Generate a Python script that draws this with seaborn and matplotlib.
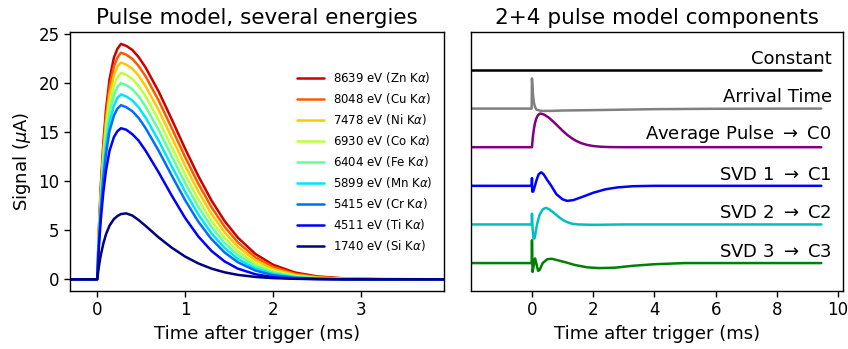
import numpy as np
import pandas as pd
import matplotlib
matplotlib.use("Agg")
import matplotlib.pyplot as plt
import seaborn as sns

# ---- left panel: pulses for several line energies ----
t_pulse = [-0.31, 0, 0.02, 0.04, 0.07, 0.10, 0.14, 0.19, 0.23, 0.27, 0.33, 0.40, 0.47,
           0.55, 0.70, 0.85, 1.00, 1.15, 1.30, 1.45, 1.60, 1.80, 2.00, 2.25,
           2.50, 2.80, 3.20, 3.94]

labels = ["8639 eV (Zn K$\\alpha$)", "8048 eV (Cu K$\\alpha$)", "7478 eV (Ni K$\\alpha$)",
          "6930 eV (Co K$\\alpha$)", "6404 eV (Fe K$\\alpha$)", "5899 eV (Mn K$\\alpha$)",
          "5415 eV (Cr K$\\alpha$)", "4511 eV (Ti K$\\alpha$)", "1740 eV (Si K$\\alpha$)"]

zn = [0, 0, 5.3, 9.4, 13.9, 17.3, 20.4, 22.6, 23.5, 24.0, 23.8, 23.38, 22.67, 21.60, 19.13,
      16.27, 13.32, 10.54, 8.04, 5.93, 4.25, 2.58, 1.49, 0.69, 0.30, 0.10, 0.02, 0]
cu = [0, 0, 5.1, 9.0, 13.4, 16.6, 19.6, 21.7, 22.6, 23.1, 22.9, 22.47, 21.76, 20.70, 18.21,
      15.37, 12.47, 9.75, 7.35, 5.35, 3.77, 2.24, 1.26, 0.56, 0.23, 0.07, 0.01, 0]
ni = [0, 0, 4.9, 8.6, 12.8, 15.9, 18.8, 20.8, 21.7, 22.1, 21.9, 21.47, 20.78, 19.70, 17.23,
      14.42, 11.59, 8.95, 6.66, 4.78, 3.30, 1.92, 1.05, 0.45, 0.18, 0.05, 0.01, 0]
co = [0, 0, 4.6, 8.2, 12.2, 15.2, 17.9, 19.8, 20.6, 21.05, 20.85, 20.42, 19.72, 18.66, 16.21,
      13.45, 10.69, 8.15, 5.98, 4.22, 2.86, 1.62, 0.86, 0.35, 0.13, 0.04, 0.01, 0]
fe = [0, 0, 4.4, 7.8, 11.6, 14.4, 17.0, 18.8, 19.6, 20.0, 19.8, 19.37, 18.68, 17.62, 15.20,
      12.50, 9.82, 7.39, 5.33, 3.69, 2.46, 1.35, 0.69, 0.27, 0.10, 0.03, 0, 0]
mn = [0, 0, 4.1, 7.4, 10.9, 13.6, 16.0, 17.7, 18.5, 18.85, 18.65, 18.23, 17.55, 16.50, 14.12,
      11.49, 8.92, 6.61, 4.69, 3.19, 2.08, 1.10, 0.55, 0.21, 0.07, 0.02, 0, 0]
cr = [0, 0, 3.9, 6.9, 10.3, 12.8, 15.1, 16.7, 17.4, 17.75, 17.55, 17.13, 16.47, 15.42, 13.09,
      10.54, 8.07, 5.88, 4.10, 2.73, 1.74, 0.89, 0.43, 0.15, 0.05, 0.01, 0, 0]
ti = [0, 0, 3.4, 6.0, 8.9, 11.1, 13.1, 14.5, 15.1, 15.4, 15.25, 14.79, 14.15, 13.12, 10.89,
      8.50, 6.26, 4.37, 2.89, 1.82, 1.09, 0.51, 0.22, 0.07, 0.02, 0, 0, 0]
si = [0, 0, 1.35, 2.43, 3.65, 4.59, 5.47, 6.14, 6.45, 6.65, 6.72, 6.50, 6.05, 5.45, 4.26,
      3.21, 2.32, 1.62, 1.09, 0.71, 0.45, 0.24, 0.12, 0.05, 0.02, 0, 0, 0]
pulses = [zn, cu, ni, co, fe, mn, cr, ti, si]

# ---- right panel: model components (offset per row) ----
comp_names = ["Constant", "Arrival Time", "Average Pulse $\\rightarrow$ C0",
              "SVD 1 $\\rightarrow$ C1", "SVD 2 $\\rightarrow$ C2", "SVD 3 $\\rightarrow$ C3"]
comp_colors = ["black", "gray", "purple", "blue", "c", "green"]
comp_offsets = [5, 4, 3, 2, 1, 0]

t_const = [-2.0, 9.45]
v_const = [0, 0]

t_arr = [-2.0, -0.01, 0, 0.03, 0.06, 0.10, 0.15, 0.3, 0.6, 1.0, 2.0, 4.0, 6.0, 9.45]
v_arr = [0, 0, 0.78, 0.40, 0.17, 0.04, -0.03, -0.06, -0.06, -0.05, -0.04, -0.015, -0.005, 0]

t_avg = [-2.0, 0, 0.02, 0.04, 0.07, 0.10, 0.14, 0.19, 0.23, 0.27, 0.33, 0.40, 0.55, 0.70,
         0.85, 1.00, 1.15, 1.30, 1.45, 1.60, 1.80, 2.00, 2.25, 2.50, 2.80, 3.2, 9.45]
v_avg = [0, 0, 0.19, 0.34, 0.50, 0.63, 0.74, 0.82, 0.853, 0.87, 0.861, 0.843, 0.766, 0.661,
         0.544, 0.427, 0.321, 0.232, 0.161, 0.107, 0.059, 0.030, 0.012, 0.004, 0.001, 0, 0]

t_svd1 = [-2.0, -0.01, 0, 0.01, 0.04, 0.08, 0.15, 0.22, 0.30, 0.38, 0.50, 0.63, 0.80, 1.00,
          1.15, 1.35, 1.70, 2.00, 2.40, 2.80, 3.30, 4.0, 9.45]
v_svd1 = [0, 0, 0.20, -0.15, -0.15, -0.05, 0.15, 0.30, 0.35, 0.30, 0.15, 0.0, -0.22, -0.35,
          -0.39, -0.37, -0.27, -0.18, -0.09, -0.04, -0.01, 0, 0]

t_svd2 = [-2.0, -0.01, 0, 0.02, 0.05, 0.09, 0.13, 0.18, 0.25, 0.35, 0.45, 0.55, 0.70, 0.85,
          1.00, 1.15, 1.30, 1.50, 2.0, 3.0, 9.45]
v_svd2 = [0, 0, 0.28, -0.10, -0.37, -0.35, -0.15, 0.05, 0.25, 0.39, 0.43, 0.40, 0.31, 0.21,
          0.12, 0.06, 0.02, 0.0, -0.01, 0, 0]

t_svd3 = [-2.0, -0.01, 0, 0.02, 0.06, 0.10, 0.14, 0.20, 0.25, 0.35, 0.50, 0.65, 0.85, 1.10,
          1.40, 1.80, 2.20, 2.70, 3.30, 4.0, 5.0, 9.45]
v_svd3 = [0, 0, 0.59, -0.23, -0.05, 0.12, 0.0, -0.20, -0.18, 0.0, 0.10, 0.11, 0.07, 0.02,
          -0.05, -0.11, -0.13, -0.12, -0.07, -0.03, 0.0, 0]

comp_t = [t_const, t_arr, t_avg, t_svd1, t_svd2, t_svd3]
comp_v = [v_const, v_arr, v_avg, v_svd1, v_svd2, v_svd3]

sns.set_style("ticks")
plt.rcParams["font.family"] = ["DejaVu Sans"]
for key in ["text.color", "axes.labelcolor", "xtick.color", "ytick.color", "axes.edgecolor"]:
    plt.rcParams[key] = "black"

fig = plt.figure(figsize=(8.48, 3.49), dpi=100)
ax1 = fig.add_axes([0.0825, 0.166, 0.4405, 0.742])
ax2 = fig.add_axes([0.5551, 0.166, 0.4387, 0.742])

# left panel
rows = []
for lab, vals in zip(labels, pulses):
    for t, v in zip(t_pulse, vals):
        rows.append({"t": t, "signal": v, "line": lab})
df = pd.DataFrame(rows)
colors = [plt.cm.jet((len(labels) - 1 - i) / 8.6) for i in range(len(labels))]
sns.lineplot(data=df, x="t", y="signal", hue="line", hue_order=labels,
             palette=colors, estimator=None, sort=False, lw=1.8, ax=ax1)
ax1.set_xlim(-0.31, 3.94)
ax1.set_ylim(-1.2, 25.2)
ax1.set_xticks([0, 1, 2, 3])
ax1.set_yticks([0, 5, 10, 15, 20, 25])
ax1.set_title("Pulse model, several energies", fontsize=15.5)
ax1.set_xlabel("Time after trigger (ms)", fontsize=13)
ax1.set_ylabel("Signal ($\\mu$A)", fontsize=13)
ax1.tick_params(labelsize=12, direction="out", length=4, width=1)
ax1.legend(loc="center right", frameon=False, fontsize=8.5, handlelength=2.3)

# right panel
for name, col, off, tt, vv in zip(comp_names, comp_colors, comp_offsets, comp_t, comp_v):
    sns.lineplot(x=tt, y=[v + off for v in vv], color=col, lw=1.8,
                 estimator=None, sort=False, ax=ax2)
    ax2.text(9.8, off + 0.06, name, ha="right", va="bottom", fontsize=13)
ax2.set_xlim(-2.0, 10.15)
ax2.set_ylim(-0.725, 5.98)
ax2.set_yticks([])
ax2.set_xticks([0, 2, 4, 6, 8, 10])
ax2.set_title("2+4 pulse model components", fontsize=15.5)
ax2.set_xlabel("Time after trigger (ms)", fontsize=13)
ax2.tick_params(labelsize=12, direction="out", length=4, width=1)

for ax in (ax1, ax2):
    for s in ax.spines.values():
        s.set_color("black")
        s.set_linewidth(1)

fig.savefig("out.png", dpi=100)
